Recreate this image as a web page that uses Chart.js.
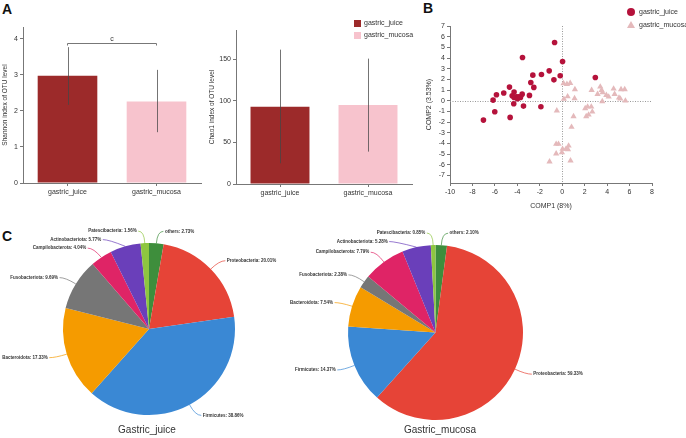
<!DOCTYPE html>
<html>
<head>
<meta charset="utf-8">
<script src="https://cdn.jsdelivr.net/npm/chart.js@4.4.1/dist/chart.umd.min.js"></script>
<style>
    body { margin: 0; width: 686px; height: 438px; background: #fff; position: relative; overflow: hidden; font-family: Arial, "Liberation Sans", sans-serif; color: #333; }
    canvas, .abs { position: absolute; }
    .panel { font-weight: bold; font-size: 14px; color: #111; line-height: 14px; }
    .leg { font-size: 7px; line-height: 8px; white-space: nowrap; }
    .pie-title { font-size: 10px; line-height: 12px; text-align: center; width: 120px; }
</style>
</head>
<body>
<div class="abs panel" style="left:2px;top:2px">A</div>
<div class="abs panel" style="left:423px;top:1px">B</div>
<div class="abs panel" style="left:2px;top:229px">C</div>

<canvas id="shannon" width="205" height="200" style="left:0;top:0"></canvas>
<canvas id="chao" width="215" height="200" style="left:200px;top:0"></canvas>
<canvas id="pca" width="306" height="215" style="left:380px;top:0"></canvas>
<canvas id="pieJuice" width="300" height="200" style="left:0;top:225px"></canvas>
<canvas id="pieMucosa" width="320" height="200" style="left:280px;top:225px"></canvas>

<!-- legend of panel A -->
<div class="abs" style="left:354px;top:20px;width:7px;height:7px;background:#9c2a2a"></div>
<div class="abs leg" style="left:364px;top:19px">gastric_juice</div>
<div class="abs" style="left:354px;top:32px;width:7px;height:7px;background:#f7c3cd"></div>
<div class="abs leg" style="left:364px;top:31px">gastric_mucosa</div>

<!-- legend of panel B -->
<div class="abs" style="left:627px;top:8px;width:8px;height:8px;border-radius:50%;background:#b5123b"></div>
<div class="abs leg" style="left:639px;top:8px">gastric_juice</div>
<div class="abs" style="left:627px;top:21px;width:0;height:0;border-left:4px solid transparent;border-right:4px solid transparent;border-bottom:7px solid #e4b9bb"></div>
<div class="abs leg" style="left:639px;top:21px">gastric_mucosa</div>

<div class="abs pie-title" style="left:87px;top:424px">Gastric_juice</div>
<div class="abs pie-title" style="left:380px;top:424px">Gastric_mucosa</div>

<script>
// groups
const groups = ["gastric_juice", "gastric_mucosa"];
const barColors = ["#9c2a2a", "#f7c3cd"];

// alpha diversity (mean and error range)
const shannonMean = [2.98, 2.26];
const shannonLow = [2.17, 1.41];
const shannonHigh = [3.77, 3.14];
const chaoMean = [92.8, 94.8];
const chaoLow = [24.9, 38.9];
const chaoHigh = [161.4, 150.6];

// PCA coordinates
const juiceX = [-0.68, -3.54, 0.03, -1.16, -1.85, -2.62, -0.18, 2.95, -0.74, -2.80, -4.70, -2.53, -4.29, -5.21, -5.86,
    -4.46, -3.57, -4.08, -3.87, -4.29, -3.99, -3.72, -2.92, -6.16, -4.32, -3.45, -1.90, -6.01, -4.64, -7.02];
const juiceY = [5.45, 4.05, 3.68, 2.80, 2.46, 2.40, 2.34, 2.18, 1.96, 1.71, 1.28, 1.25, 0.81, 0.72, 0.56,
    0.47, 0.62, 0.37, 0.37, 0.31, 0.19, 0.31, 0.50, 0.06, -0.28, -0.50, -0.56, -1.03, -1.56, -1.81];
const mucosaX = [0.12, 0.42, 0.71, 1.13, 2.62, 3.39, 3.51, 3.60, 4.58, 5.24, 5.57, 3.15, 3.93, 4.14, 4.67, 5.06, 5.18,
    5.63, 3.57, 1.10, 0.15, 0.48, -0.48, 1.01, 2.05, 2.26, 2.59, 2.68, 2.35, 2.14, 0.83, -0.54, -0.33, -0.54, 0.03,
    -0.03, 0.33, 0.57, 0.51, -1.13, 0.74];
const mucosaY = [1.62, 1.56, 1.65, 1.06, 1.00, 1.31, 1.00, 0.78, 1.12, 1.06, 1.06, 0.62, 0.53, 0.37, 0.62, 0.28, 0.19,
    0.00, -0.06, 0.22, 0.16, 0.40, -0.93, -1.46, -0.72, -0.56, -0.56, -1.03, -1.31, -1.46, -2.46, -4.05, -4.05, -4.95, -4.52,
    -4.83, -4.52, -4.21, -4.55, -5.70, -5.61];

// phylum composition (%)
const phyla = ["others", "Proteobacteria", "Firmicutes", "Bacteroidota", "Fusobacteriota", "Campilobacterota", "Actinobacteriota", "Patescibacteria"];
const phylaColors = ["#3e8e3c", "#e64437", "#3a88d4", "#f59b00", "#767676", "#df2466", "#6a3fba", "#8ec640"];
const juicePct = [2.73, 20.01, 38.86, 17.33, 9.69, 4.04, 5.77, 1.56];
const mucosaPct = [2.10, 59.33, 14.37, 7.54, 2.38, 7.79, 5.28, 0.85];

const axisColor = "#777";
const tickFont = { family: "Arial", size: 7 };

// list of tick objects from lo to hi
function tickList(lo, hi, step) {
    const out = [];
    for (let v = lo; v <= hi + 1e-9; v += step) out.push({ value: v });
    return out;
}

// error bars and the significance bracket
const errorBarPlugin = {
    id: "errorBars",
    afterDatasetsDraw(chart, args, opts) {
        const { ctx } = chart;
        const x = chart.scales.x;
        const y = chart.scales.y;
        ctx.save();
        ctx.strokeStyle = "rgba(70,70,70,0.75)";
        ctx.lineWidth = 1;
        opts.low.forEach((lo, i) => {
            const px = Math.round(x.getPixelForValue(i)) + 0.5;
            ctx.beginPath();
            ctx.moveTo(px, y.getPixelForValue(lo));
            ctx.lineTo(px, y.getPixelForValue(opts.high[i]));
            ctx.stroke();
        });
        if (opts.bracket) {
            const x0 = x.getPixelForValue(0);
            const x1 = x.getPixelForValue(1);
            const by = Math.round(y.getPixelForValue(opts.bracket.value)) + 0.5;
            ctx.strokeStyle = "#777";
            ctx.beginPath();
            ctx.moveTo(x0, by + 2);
            ctx.lineTo(x0, by);
            ctx.lineTo(x1, by);
            ctx.lineTo(x1, by + 2);
            ctx.stroke();
            ctx.fillStyle = "#333";
            ctx.font = "7px Arial";
            ctx.textAlign = "center";
            ctx.textBaseline = "bottom";
            ctx.fillText(opts.bracket.text, (x0 + x1) / 2, by - 1);
        }
        ctx.restore();
    },
};

function barChart(id, values, low, high, yMax, yStep, yTitle, padding, yWidth, xHeight, bracket) {
    return new Chart(document.getElementById(id), {
        type: "bar",
        data: {
            labels: groups,
            datasets: [{ data: values, backgroundColor: barColors, barPercentage: 0.67, categoryPercentage: 1 }],
        },
        options: {
            responsive: false,
            animation: false,
            layout: { padding },
            plugins: {
                legend: { display: false },
                tooltip: { enabled: false },
                errorBars: { low, high, bracket },
            },
            scales: {
                x: {
                    grid: { offset: false, drawOnChartArea: false, tickLength: 3, color: axisColor },
                    border: { color: axisColor },
                    ticks: { font: tickFont, color: "#333", padding: 2 },
                    afterFit: (s) => { s.height = xHeight; },
                },
                y: {
                    min: 0,
                    max: yMax,
                    afterBuildTicks: (s) => { s.ticks = tickList(0, yMax, yStep); },
                    grid: { drawOnChartArea: false, tickLength: 3, color: axisColor },
                    border: { color: axisColor },
                    ticks: { font: tickFont, color: "#333", padding: 2, autoSkip: false },
                    title: { display: true, text: yTitle, font: { family: "Arial", size: 6.5 }, color: "#333", padding: { top: 1, bottom: 0 } },
                    afterFit: (s) => { s.width = yWidth; },
                },
            },
        },
        plugins: [errorBarPlugin],
    });
}

barChart("shannon", shannonMean, shannonLow, shannonHigh, 4.33, 1, "Shannon index of OTU level",
    { left: 0, right: 4, top: 27, bottom: 0 }, 23, 17, { value: 3.88, text: "c" });
barChart("chao", chaoMean, chaoLow, chaoHigh, 185, 50, "Chao1 index of OTU level",
    { left: 7, right: 3, top: 30, bottom: 0 }, 29, 16, null);

// dotted zero lines of the PCA plot
const zeroLines = {
    id: "zeroLines",
    beforeDatasetsDraw(chart) {
        const { ctx, chartArea } = chart;
        const px = Math.round(chart.scales.x.getPixelForValue(0)) + 0.5;
        const py = Math.round(chart.scales.y.getPixelForValue(0)) + 0.5;
        ctx.save();
        ctx.strokeStyle = "#999";
        ctx.lineWidth = 1;
        ctx.setLineDash([1, 1.5]);
        ctx.beginPath();
        ctx.moveTo(px, chartArea.top);
        ctx.lineTo(px, chartArea.bottom);
        ctx.moveTo(chartArea.left, py);
        ctx.lineTo(chartArea.right, py);
        ctx.stroke();
        ctx.restore();
    },
};

new Chart(document.getElementById("pca"), {
    type: "scatter",
    data: {
        datasets: [
            {
                label: "gastric_juice",
                data: juiceX.map((x, i) => ({ x, y: juiceY[i] })),
                pointStyle: "circle",
                pointRadius: 2.8,
                backgroundColor: "#b5123b",
                borderWidth: 0,
            },
            {
                label: "gastric_mucosa",
                data: mucosaX.map((x, i) => ({ x, y: mucosaY[i] })),
                pointStyle: "triangle",
                pointRadius: 3.6,
                backgroundColor: "#e4b9bb",
                borderWidth: 0,
            },
        ],
    },
    options: {
        responsive: false,
        animation: false,
        layout: { padding: { left: 45, right: 34, top: 26, bottom: 5 } },
        plugins: { legend: { display: false }, tooltip: { enabled: false } },
        scales: {
            x: {
                type: "linear",
                min: -10,
                max: 8,
                afterBuildTicks: (s) => { s.ticks = tickList(-10, 8, 2); },
                ticks: { font: tickFont, color: "#333", padding: 2, autoSkip: false },
                grid: { drawOnChartArea: false, tickLength: 3, color: axisColor },
                border: { color: axisColor },
                title: { display: true, text: "COMP1 (8%)", font: tickFont, color: "#333", padding: 0 },
                afterFit: (s) => { s.height = 27; },
            },
            y: {
                min: -7.7,
                max: 7,
                afterBuildTicks: (s) => { s.ticks = tickList(-7, 7, 1); },
                ticks: { font: tickFont, color: "#333", padding: 2, autoSkip: false },
                grid: { drawOnChartArea: false, tickLength: 3, color: axisColor },
                border: { color: axisColor },
                title: { display: true, text: "COMP2 (3.53%)", font: tickFont, color: "#333", padding: 0 },
                afterFit: (s) => { s.width = 25; },
            },
        },
    },
    plugins: [zeroLines],
});

// outside labels with leader lines for the pies
const pieLabels = {
    id: "pieLabels",
    afterDraw(chart) {
        const { ctx } = chart;
        const meta = chart.getDatasetMeta(0);
        const values = chart.data.datasets[0].data;
        const gap = 8.5;
        const items = meta.data.map((arc, i) => {
            const mid = (arc.startAngle + arc.endAngle) / 2;
            const r = arc.outerRadius;
            const R = r + 12;
            return {
                i, mid, r, R, cx: arc.x, cy: arc.y,
                side: Math.cos(mid) >= 0 ? 1 : -1,
                y: arc.y + R * Math.sin(mid),
            };
        });
        [1, -1].forEach((side) => {
            const list = items.filter((it) => it.side === side).sort((a, b) => a.y - b.y);
            for (let k = 1; k < list.length; k++) {
                if (list[k].y < list[k - 1].y + gap) list[k].y = list[k - 1].y + gap;
            }
        });
        ctx.save();
        ctx.font = "bold 4.5px Arial";
        ctx.textBaseline = "middle";
        items.forEach((it) => {
            const dy = it.y - it.cy;
            const dx = Math.sqrt(Math.max(it.R * it.R - dy * dy, 0));
            const x1 = it.cx + it.side * dx;
            const x2 = x1 + it.side * 6;
            const x0 = it.cx + it.r * Math.cos(it.mid);
            const y0 = it.cy + it.r * Math.sin(it.mid);
            ctx.strokeStyle = phylaColors[it.i];
            ctx.lineWidth = 0.7;
            ctx.beginPath();
            ctx.moveTo(x0, y0);
            ctx.quadraticCurveTo(x1, it.y, x2, it.y);
            ctx.stroke();
            ctx.fillStyle = "#333";
            ctx.textAlign = it.side > 0 ? "left" : "right";
            ctx.fillText(`${chart.data.labels[it.i]}: ${values[it.i].toFixed(2)}%`, x2 + it.side * 1.5, it.y);
        });
        ctx.restore();
    },
};

function pieChart(id, values, padding) {
    return new Chart(document.getElementById(id), {
        type: "pie",
        data: {
            labels: phyla,
            datasets: [{ data: values, backgroundColor: phylaColors, borderWidth: 0 }],
        },
        options: {
            responsive: false,
            animation: false,
            layout: { padding },
            plugins: { legend: { display: false }, tooltip: { enabled: false } },
        },
        plugins: [pieLabels],
    });
}

pieChart("pieJuice", juicePct, { left: 63, right: 65, top: 18, bottom: 10 });
pieChart("pieMucosa", mucosaPct, { left: 68, right: 77, top: 20, bottom: 5 });
</script>
</body>
</html>
